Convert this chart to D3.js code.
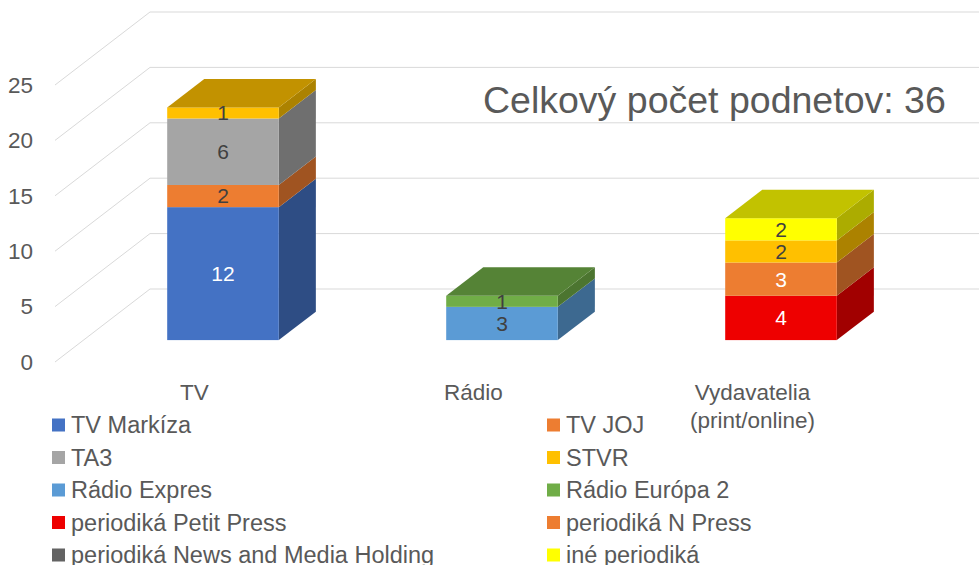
<!DOCTYPE html>
<html>
<head>
<meta charset="utf-8">
<script src="https://cdn.jsdelivr.net/npm/d3@7"></script>
<style>
  html, body { margin: 0; padding: 0; background: #fff; }
  svg { display: block; font-family: "Liberation Sans", Arial, sans-serif; }
</style>
</head>
<body>
<div id="chart"></div>
<script>
// data
var categories = ["TV", "Rádio", "Vydavatelia (print/online)"];
var categoryLines = [["TV"], ["Rádio"], ["Vydavatelia", "(print/online)"]];
var seriesNames = [
  "TV Markíza", "TV JOJ", "TA3", "STVR", "Rádio Expres", "Rádio Európa 2",
  "periodiká Petit Press", "periodiká N Press",
  "periodiká News and Media Holding", "iné periodiká"
];
var seriesValues = [
  [12, 0, 0],
  [2, 0, 0],
  [6, 0, 0],
  [1, 0, 0],
  [0, 3, 0],
  [0, 1, 0],
  [0, 0, 4],
  [0, 0, 3],
  [0, 0, 2],
  [0, 0, 2]
];
var yTicks = [0, 5, 10, 15, 20, 25];
var totalText = "Celkový počet podnetov: 36";

// styles
var seriesColors = ["#4472C4", "#ED7D31", "#A5A5A5", "#FFC000", "#5B9BD5",
                    "#70AD47", "#EE0000", "#ED7D31", "#636363", "#FFFF00"];
// the News and Media Holding bar was recoloured in the source, legend kept default
var barColors = seriesColors.slice();
barColors[8] = "#FFC000";
var labelColors = ["#fff", "#404040", "#404040", "#404040", "#404040",
                   "#404040", "#fff", "#fff", "#404040", "#404040"];

var W = 979, H = 565;
var textColor = "#595959";
var gridColor = "#d9d9d9";

// 3d projection: depth z in [0,1] shifts points by (DX, DY)
var DX = 95, DY = -73;
var zFront = 0.3, zBack = 0.69;

var x = d3.scaleBand().domain(categories).range([55, 892])
  .paddingInner(0.6).paddingOuter(0.3);
var y = d3.scaleLinear().domain([0, 25]).range([362, 85]);

function P(px, v, z) { return [px + z * DX, y(v) + z * DY]; }

var svg = d3.select("#chart").append("svg")
  .attr("width", W).attr("height", H);

// gridlines: diagonal side wall + back wall
var grid = svg.append("g");
yTicks.forEach(function(t) {
  var pts = [P(55, t, 0), P(55, t, 1), P(892, t, 1)];
  grid.append("path")
    .attr("d", d3.line()(pts))
    .attr("fill", "none")
    .attr("stroke", gridColor)
    .attr("stroke-width", 1);
});

// y tick labels
svg.append("g").selectAll("text")
  .data(yTicks).enter().append("text")
  .attr("x", 33)
  .attr("y", function(d) { return y(d); })
  .attr("dy", "0.35em")
  .attr("text-anchor", "end")
  .attr("fill", textColor)
  .attr("font-size", "22.5px")
  .text(function(d) { return d; });

// stacked columns
var table = categories.map(function(c, i) {
  var row = { cat: c };
  seriesNames.forEach(function(s, k) { row[s] = seriesValues[k][i]; });
  return row;
});
var stacked = d3.stack().keys(seriesNames)(table);

var bars = svg.append("g");
categories.forEach(function(cat, ci) {
  var x0 = x(cat), x1 = x(cat) + x.bandwidth();
  var segs = [];
  stacked.forEach(function(layer, k) {
    var d = layer[ci];
    if (d[1] - d[0] > 0) segs.push({ k: k, lo: d[0], hi: d[1] });
  });
  segs.forEach(function(s, si) {
    var col = d3.color(barColors[s.k]);
    // side face
    bars.append("path")
      .attr("d", d3.line()([P(x1, s.lo, zFront), P(x1, s.lo, zBack),
                            P(x1, s.hi, zBack), P(x1, s.hi, zFront)]) + "Z")
      .attr("fill", col.darker(1.1));
    // front face
    var a = P(x0, s.hi, zFront), b = P(x1, s.lo, zFront);
    bars.append("rect")
      .attr("x", a[0]).attr("y", a[1])
      .attr("width", b[0] - a[0]).attr("height", b[1] - a[1])
      .attr("fill", col);
    // top face on the last segment
    if (si === segs.length - 1) {
      bars.append("path")
        .attr("d", d3.line()([P(x0, s.hi, zFront), P(x0, s.hi, zBack),
                              P(x1, s.hi, zBack), P(x1, s.hi, zFront)]) + "Z")
        .attr("fill", col.darker(0.77));
    }
  });
  // data labels
  segs.forEach(function(s) {
    var c = P((x0 + x1) / 2, (s.lo + s.hi) / 2, zFront);
    bars.append("text")
      .attr("x", c[0]).attr("y", c[1])
      .attr("dy", "0.35em")
      .attr("text-anchor", "middle")
      .attr("fill", labelColors[s.k])
      .attr("font-size", "21px")
      .text(s.hi - s.lo);
  });
});

// category labels
categories.forEach(function(cat, ci) {
  var cx = x(cat) + x.bandwidth() / 2;
  var t = svg.append("text")
    .attr("text-anchor", "middle")
    .attr("fill", textColor)
    .attr("font-size", "22.5px");
  categoryLines[ci].forEach(function(line, li) {
    t.append("tspan").attr("x", cx).attr("y", 400 + li * 28).text(line);
  });
});

// total annotation
svg.append("text")
  .attr("x", 483).attr("y", 113)
  .attr("fill", textColor)
  .attr("font-size", "37.5px")
  .text(totalText);

// legend, two columns
var legend = svg.append("g");
seriesNames.forEach(function(name, i) {
  var col = i % 2, row = Math.floor(i / 2);
  var lx = col === 0 ? 52 : 547;
  var ly = 425 + row * 32.5;
  legend.append("rect")
    .attr("x", lx).attr("y", ly - 6.5)
    .attr("width", 13).attr("height", 13)
    .attr("fill", seriesColors[i]);
  legend.append("text")
    .attr("x", lx + 19).attr("y", ly)
    .attr("dy", "0.35em")
    .attr("fill", textColor)
    .attr("font-size", "23.5px")
    .text(name);
});
</script>
</body>
</html>
